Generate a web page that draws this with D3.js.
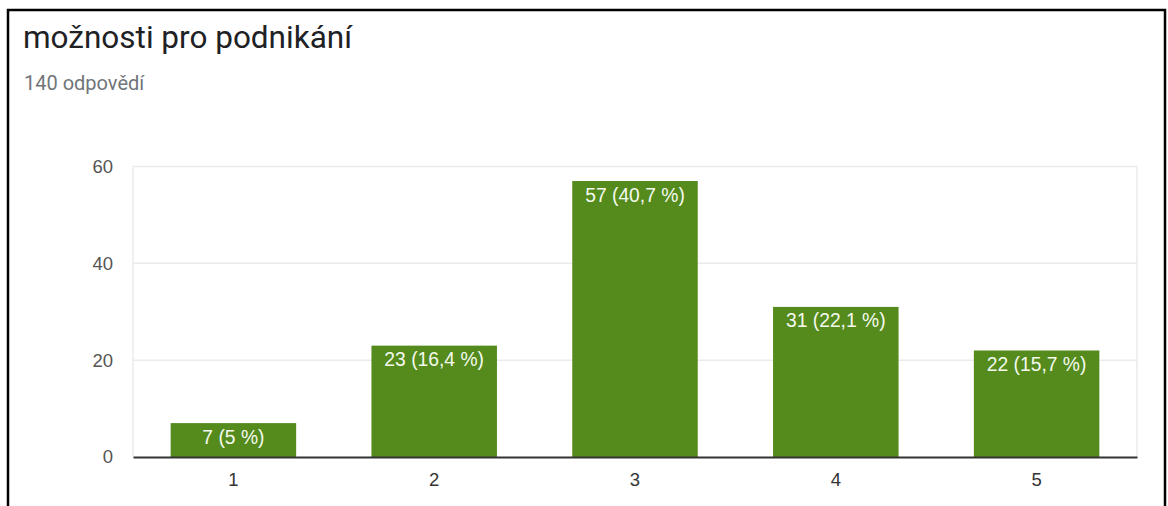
<!DOCTYPE html>
<html>
<head>
<meta charset="utf-8">
<script src="https://cdn.jsdelivr.net/npm/d3@7"></script>
<style>
  html, body { margin: 0; padding: 0; background: #fff; }
  svg { display: block; }
</style>
</head>
<body>
<svg id="chart" width="1168" height="506"></svg>
<script>
const title = "možnosti pro podnikání";
const subtitle = "140 odpovědí";
const categories = ["1", "2", "3", "4", "5"];
const counts = [7, 23, 57, 31, 22];
const labels = ["7 (5 %)", "23 (16,4 %)", "57 (40,7 %)", "31 (22,1 %)", "22 (15,7 %)"];
const yTicks = [0, 20, 40, 60];

(function () {
const svg = d3.select("#chart");

// outer frame
svg.append("rect").attr("x", 8).attr("y", 10).attr("width", 1157).attr("height", 520)
  .attr("fill", "#fff").attr("stroke", "#000").attr("stroke-width", 2.5);

svg.append("text").attr("x", 23).attr("y", 48)
  .attr("font-family", "Roboto, sans-serif").attr("font-size", 31.5)
  .attr("fill", "#202124").text(title);
svg.append("text").attr("x", 24).attr("y", 90)
  .attr("font-family", "Roboto, sans-serif").attr("font-size", 20)
  .attr("fill", "#70757a").text(subtitle);

const pLeft = 133, pRight = 1137, pTop = 166.5, pBottom = 457;
const x = d3.scaleBand().domain(categories).range([pLeft, pRight]).paddingInner(0.375).paddingOuter(0.1875);
const y = d3.scaleLinear().domain([0, 60]).range([pBottom, pTop]);

// gridlines
const grid = svg.append("g");
grid.selectAll("line.h").data(yTicks.filter(d => d > 0)).join("line")
  .attr("x1", pLeft).attr("x2", pRight)
  .attr("y1", d => y(d)).attr("y2", d => y(d))
  .attr("stroke", "#ebebeb").attr("stroke-width", 1.5);
grid.selectAll("line.v").data([pLeft, pRight]).join("line")
  .attr("x1", d => d).attr("x2", d => d)
  .attr("y1", pTop).attr("y2", pBottom)
  .attr("stroke", "#ebebeb").attr("stroke-width", 1.5);

// y axis labels
const yAxis = d3.axisLeft(y).tickValues(yTicks).tickSize(0).tickPadding(20);
const yg = svg.append("g").attr("transform", `translate(${pLeft},0)`).call(yAxis);
yg.select(".domain").remove();
yg.selectAll("text").attr("font-family", "Liberation Sans, Arial, sans-serif")
  .attr("font-size", 18.5).attr("fill", "#555");

// bars
svg.selectAll("rect.bar").data(categories).join("rect")
  .attr("class", "bar")
  .attr("x", d => x(d)).attr("width", x.bandwidth())
  .attr("y", (d, i) => y(counts[i])).attr("height", (d, i) => pBottom - y(counts[i]))
  .attr("fill", "#558a1d");

// bar labels
svg.selectAll("text.lbl").data(categories).join("text")
  .attr("class", "lbl")
  .attr("x", d => x(d) + x.bandwidth() / 2)
  .attr("y", (d, i) => y(counts[i]) + 20.5)
  .attr("text-anchor", "middle")
  .attr("font-family", "Liberation Sans, Arial, sans-serif")
  .attr("font-size", 19.3).attr("fill", "#f4faee")
  .text((d, i) => labels[i]);

// x axis
const xAxis = d3.axisBottom(x).tickSize(0).tickPadding(16);
const xg = svg.append("g").attr("transform", `translate(0,${pBottom})`).call(xAxis);
xg.select(".domain").attr("stroke", "#333").attr("stroke-width", 2);
xg.selectAll("text").attr("font-family", "Liberation Sans, Arial, sans-serif")
  .attr("font-size", 18.5).attr("fill", "#333");
})();
</script>
</body>
</html>
